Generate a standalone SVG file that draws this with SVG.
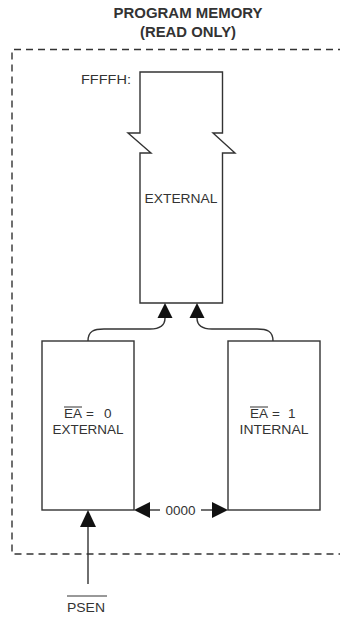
<svg xmlns="http://www.w3.org/2000/svg" width="340" height="617" viewBox="0 0 340 617">
<style>
  .ln { fill: none; stroke: #333; stroke-width: 1.4; }
  .blk { fill: #fff; stroke: #333; stroke-width: 1.4; }
  .t { font-family: "Liberation Sans", Arial, sans-serif; fill: #333; font-size: 13.5px; }
  .ttl { font-family: "Liberation Sans", Arial, sans-serif; fill: #333; font-size: 14px; font-weight: bold; text-anchor: middle; }
  .ah { fill: #111; stroke: none; }
  .ov { stroke: #333; stroke-width: 1; }
</style>
<rect width="340" height="617" fill="#fff"/>
<g id="title">
  <text class="ttl" x="188" y="18" textLength="149" lengthAdjust="spacingAndGlyphs">PROGRAM MEMORY</text>
  <text class="ttl" x="188" y="37" textLength="96" lengthAdjust="spacingAndGlyphs">(READ ONLY)</text>
</g>
<g id="boundary">
  <path d="M345,49.5 L12,49.5 L12,554 L345,554" fill="none" stroke="#333" stroke-width="1.4" stroke-dasharray="7,5"/>
</g>
<g id="external-block">
  <path class="blk" d="M140,72 L222.5,72 L222.5,133 L213,133 L235,153 L222.5,153 L222.5,303 L140,303 L140,153 L151,153 L128,133 L140,133 Z"/>
  <text class="t" x="81" y="84" textLength="50" lengthAdjust="spacingAndGlyphs">FFFFH:</text>
  <text class="t" x="181" y="203" text-anchor="middle" textLength="73" lengthAdjust="spacingAndGlyphs">EXTERNAL</text>
</g>
<g id="ea0-block">
  <rect class="blk" x="42" y="341" width="92" height="169"/>
  <text class="t" x="64" y="418" textLength="18" lengthAdjust="spacingAndGlyphs">EA</text>
  <text class="t" x="86" y="418">=</text>
  <text class="t" x="104" y="418">0</text>
  <line class="ov" x1="64" y1="407" x2="82" y2="407"/>
  <text class="t" x="88" y="434" text-anchor="middle" textLength="71" lengthAdjust="spacingAndGlyphs">EXTERNAL</text>
</g>
<g id="ea1-block">
  <rect class="blk" x="228" y="341" width="92" height="169"/>
  <text class="t" x="250" y="418" textLength="18" lengthAdjust="spacingAndGlyphs">EA</text>
  <text class="t" x="272" y="418">=</text>
  <text class="t" x="288" y="418">1</text>
  <line class="ov" x1="250" y1="407" x2="268" y2="407"/>
  <text class="t" x="274" y="434" text-anchor="middle" textLength="69" lengthAdjust="spacingAndGlyphs">INTERNAL</text>
</g>
<g id="connectors">
  <path class="ln" d="M88,341 C88,331 94,329 104,329 L150,329 C160,329 165,326 165,318"/>
  <polygon class="ah" points="165,303 157.5,318 172.5,318"/>
  <path class="ln" d="M273,341 C273,331 267,329 257,329 L212,329 C202,329 197,326 197,318"/>
  <polygon class="ah" points="197,303 189.5,318 204.5,318"/>
  <line class="ln" x1="150" y1="510" x2="160" y2="510"/>
  <polygon class="ah" points="134,510 150,502 150,518"/>
  <line class="ln" x1="201" y1="510" x2="212" y2="510"/>
  <polygon class="ah" points="228,510 212,502 212,518"/>
  <line class="ln" x1="88" y1="527" x2="88" y2="584"/>
  <polygon class="ah" points="88,510 80,527 96,527"/>
</g>
<g id="labels">
  <text class="t" x="180.5" y="515" text-anchor="middle" textLength="30" lengthAdjust="spacingAndGlyphs">0000</text>
  <text class="t" x="67" y="612" textLength="38" lengthAdjust="spacingAndGlyphs">PSEN</text>
  <line class="ov" x1="67" y1="596" x2="107" y2="596"/>
</g>
</svg>
